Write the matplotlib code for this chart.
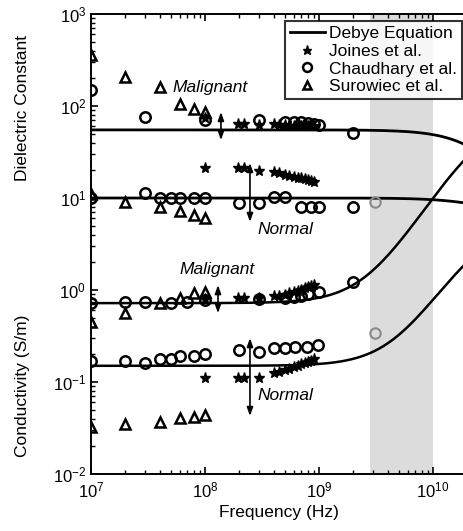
import numpy as np
import matplotlib
matplotlib.use("Agg")
import matplotlib.pyplot as plt
from matplotlib.lines import Line2D

plt.rcParams['font.family'] = ['Liberation Sans', 'DejaVu Sans']
plt.rcParams['mathtext.fontset'] = 'custom'
plt.rcParams['mathtext.rm'] = 'Liberation Sans'
plt.rcParams['mathtext.it'] = 'Liberation Sans:italic'
plt.rcParams['mathtext.default'] = 'regular'

# ---------------- data ----------------
# Debye model parameters (read from flat levels of the curves)
tau = 5.9e-12
eps_inf_mal, d_eps_mal, sig_s_mal = 4.0, 51.0, 0.72
eps_inf_nor, d_eps_nor, sig_s_nor = 6.5, 3.5, 0.15

# Surowiec et al. (triangles)
sur_f = [1e7, 2e7, 4e7, 6e7, 8e7, 1e8]
sur_eps_mal = [358, 206, 161, 105, 93, 86]
sur_eps_nor = [11.0, 9.1, 8.0, 7.2, 6.5, 6.1]
sur_sig_mal = [0.45, 0.56, 0.72, 0.82, 0.92, 0.95]
sur_sig_nor = [0.0324, 0.0351, 0.0371, 0.041, 0.042, 0.0435]

# Chaudhary et al. (circles)
cha_eps_mal_f = [1e7, 3e7, 1e8, 3e8, 5e8, 6e8, 7e8, 8e8, 9e8, 1e9, 2e9]
cha_eps_mal = [149, 76, 70, 70, 67, 67, 67, 66, 64, 62, 51]
cha_eps_nor_f = [1e7, 3e7, 4e7, 5e7, 6e7, 8e7, 1e8, 2e8, 3e8, 4e8, 5e8, 7e8, 8.5e8, 1e9, 2e9]
cha_eps_nor = [10, 11.3, 10, 10, 10, 10, 10, 8.9, 8.9, 10.2, 10.2, 7.9, 7.9, 7.9, 8.0]
cha_sig_mal_f = [1e7, 2e7, 3e7, 5e7, 7e7, 1e8, 3e8, 5e8, 6e8, 7e8, 8e8, 1e9, 2e9]
cha_sig_mal = [0.72, 0.74, 0.74, 0.72, 0.74, 0.78, 0.80, 0.82, 0.84, 0.87, 0.90, 0.95, 1.22]
cha_sig_nor_f = [1e7, 2e7, 3e7, 4e7, 5e7, 6e7, 8e7, 1e8, 2e8, 3e8, 4e8, 5e8, 6.2e8, 7.8e8, 9.8e8]
cha_sig_nor = [0.17, 0.17, 0.16, 0.18, 0.18, 0.19, 0.19, 0.20, 0.223, 0.21, 0.234, 0.234, 0.24, 0.24, 0.25]
# Chaudhary points inside the shaded band (printed in grey)
cha_grey_f = [3.1e9]
cha_grey_eps = [9.1]
cha_grey_sig = [0.34]

# Joines et al. (stars)
joi_f = [1e8, 1.95e8, 2.2e8, 3e8, 4e8, 4.5e8, 5e8, 5.5e8, 6e8, 6.5e8, 7e8, 7.5e8, 8e8, 8.5e8, 9e8]
joi_eps_mal = [74, 64, 63, 62, 63, 62, 62, 61, 61, 61, 61, 60, 60, 60, 60]
joi_eps_nor = [21.2, 21.0, 21.0, 19.6, 19.1, 18.5, 18.0, 17.5, 17.1, 16.7, 16.3, 16.0, 15.7, 15.4, 15.1]
joi_sig_mal = [0.80, 0.82, 0.82, 0.82, 0.85, 0.87, 0.89, 0.92, 0.95, 0.98, 1.01, 1.04, 1.07, 1.10, 1.13]
joi_sig_nor = [0.11, 0.11, 0.11, 0.11, 0.125, 0.13, 0.135, 0.14, 0.145, 0.15, 0.155, 0.16, 0.165, 0.17, 0.18]

band = (2.8e9, 1.0e10)

legend_labels = ['Debye Equation', 'Joines et al.', 'Chaudhary et al.', 'Surowiec et al.']

# ---------------- figure ----------------
fig = plt.figure(figsize=(4.63, 5.31), dpi=100)
left = 91 / 463
bottom = (531 - 474) / 531
height = 460 / 531
width = (114 * np.log10(2e10 / 1e7)) / 463
ax = fig.add_axes([left, bottom, width, height])
ax.set_xscale('log')
ax.set_yscale('log')
ax.set_xlim(1e7, 2e10)
ax.set_ylim(1e-2, 1e3)

ax.axvspan(band[0], band[1], color='#dcdcdc', lw=0, zorder=0)

f = np.logspace(7, np.log10(2e10), 500)
w = 2 * np.pi * f
eps0 = 8.854e-12


def debye(eps_inf, d_eps, sig_s):
    x = w * tau
    ep = eps_inf + d_eps / (1 + x**2)
    sg = sig_s + w * eps0 * d_eps * x / (1 + x**2)
    return ep, sg


for p in [(eps_inf_mal, d_eps_mal, sig_s_mal), (eps_inf_nor, d_eps_nor, sig_s_nor)]:
    ep, sg = debye(*p)
    ax.plot(f, ep, color='black', lw=2.0, zorder=3)
    ax.plot(f, sg, color='black', lw=1.8, zorder=3)

mk_open = dict(ls='none', mfc='none', mec='black', mew=1.8, zorder=4)
tri = dict(marker='^', ms=7.5, **mk_open)
cir = dict(marker='o', ms=7.5, **mk_open)
star = dict(ls='none', marker='*', ms=8, color='black', zorder=5)
grey_cir = dict(ls='none', marker='o', ms=7.5, mfc='none', mec='#8a8a8a', mew=1.5, zorder=4)

for y in (sur_eps_mal, sur_eps_nor, sur_sig_mal, sur_sig_nor):
    ax.plot(sur_f, y, **tri)
ax.plot(cha_eps_mal_f, cha_eps_mal, **cir)
ax.plot(cha_eps_nor_f, cha_eps_nor, **cir)
ax.plot(cha_sig_mal_f, cha_sig_mal, **cir)
ax.plot(cha_sig_nor_f, cha_sig_nor, **cir)
ax.plot(cha_grey_f, cha_grey_eps, **grey_cir)
ax.plot(cha_grey_f, cha_grey_sig, **grey_cir)
for y in (joi_eps_mal, joi_eps_nor, joi_sig_mal, joi_sig_nor):
    ax.plot(joi_f, y, **star)

# arrows and labels
arr = dict(arrowstyle='<|-|>,head_length=0.5,head_width=0.18', color='black', lw=1.2,
           shrinkA=0, shrinkB=0)
ax.annotate('', xy=(1.38e8, 86), xytext=(1.38e8, 42.6), arrowprops=arr, zorder=6)
ax.annotate('', xy=(2.48e8, 24), xytext=(2.48e8, 5.5), arrowprops=arr, zorder=6)
ax.annotate('', xy=(1.3e8, 1.13), xytext=(1.3e8, 0.56), arrowprops=arr, zorder=6)
ax.annotate('', xy=(2.48e8, 0.30), xytext=(2.48e8, 0.0427), arrowprops=arr, zorder=6)
tkw = dict(fontsize=12.5, style='italic', ha='left', va='center')
ax.text(5.2e7, 157, 'Malignant', **tkw)
ax.text(2.9e8, 4.5, 'Normal', **tkw)
ax.text(6.0e7, 1.65, 'Malignant', **tkw)
ax.text(2.9e8, 0.072, 'Normal', **tkw)

# axes styling
for s in ('left', 'bottom', 'top'):
    ax.spines[s].set_linewidth(1.4)
ax.spines['right'].set_visible(False)
ax.tick_params(which='both', direction='in', top=True, right=False, labelsize=12)
ax.tick_params(which='major', length=5, width=1.2)
ax.tick_params(which='minor', length=3, width=1.0)
ax.tick_params(axis='x', pad=5)
ax.set_xticks([1e7, 1e8, 1e9, 1e10])
ax.set_yticks([1e-2, 1e-1, 1e0, 1e1, 1e2, 1e3])

ax.set_xlabel('Frequency (Hz)', fontsize=12.5, labelpad=3)
fig.text(23 / 463, 1 - 108 / 531, 'Dielectric Constant', rotation=90, ha='center', va='center', fontsize=12.5)
fig.text(23 / 463, 1 - 386 / 531, 'Conductivity (S/m)', rotation=90, ha='center', va='center', fontsize=12.5)

handles = [Line2D([], [], color='black', lw=2),
           Line2D([], [], **star),
           Line2D([], [], **cir),
           Line2D([], [], **tri)]
leg = ax.legend(handles, legend_labels, loc='upper right', bbox_to_anchor=(462 / 463, 1 - 21 / 531),
                bbox_transform=fig.transFigure, borderaxespad=0, fontsize=12.5,
                frameon=True, fancybox=False, handlelength=2.0, handletextpad=0.25,
                labelspacing=0.15, borderpad=0.28, markerscale=0.85)
leg.get_frame().set_edgecolor('black')
leg.get_frame().set_linewidth(1.5)
leg.set_zorder(10)

fig.savefig('out.png', dpi=100)
